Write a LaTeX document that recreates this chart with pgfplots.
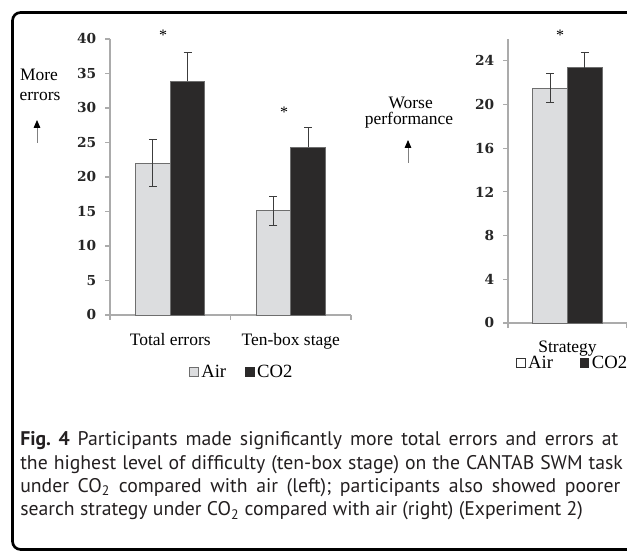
\documentclass[border=0pt]{standalone}
\usepackage{fontspec}
\setmainfont{Liberation Serif}
\newfontfamily\tickfont{DejaVu Serif}
\newfontfamily\capfont{PT Sans}
\usepackage{pgfplots}
\pgfplotsset{compat=1.18}
\usetikzlibrary{arrows.meta}
\frenchspacing

\definecolor{airfill}{HTML}{DCDDDF}
\definecolor{co2fill}{HTML}{2B2929}
\definecolor{barline}{HTML}{6E6E6E}
\definecolor{axisgray}{HTML}{ABABAB}
\definecolor{errgray}{HTML}{3C3C3C}
\definecolor{captext}{HTML}{231F20}

% 1px = 0.75pt, picture is 627x552 px
\pgfplotsset{
  swm/.style={
    scale only axis,
    axis x line=bottom, axis y line=left,
    axis line style={axisgray, -, line width=0.8pt},
    tick align=outside, major tick length=3.75pt,
    tick style={axisgray, line width=0.8pt},
    ymin=0, clip=false,
    ybar=0pt, bar width=26pt,
    /pgf/number format/assume math mode=true,
    yticklabel style={font=\tickfont\bfseries\fontsize{10.3}{12}\selectfont, text=black!85, xshift=-3pt},
    xticklabel style={font=\fontsize{13.1}{15}\selectfont, yshift=-10pt},
    extra x tick style={major tick length=0pt},
    legend image code/.code={\draw[##1, line width=0.6pt] (0pt,-3.1pt) rectangle (6.6pt,3.5pt);},
    legend style={draw=none, fill=none, anchor=center, legend columns=2,
      font=\fontsize{14}{15}\selectfont},
  },
  airbar/.style={fill=airfill, draw=barline, line width=0.7pt},
  co2bar/.style={fill=co2fill, draw=barline, line width=0.7pt},
  errs/.style={error bars/.cd, y dir=#1, y explicit,
    error bar style={errgray, line width=0.8pt},
    error mark options={errgray, line width=0.8pt, mark size=3pt, rotate=90}},
}

\begin{document}
\begin{tikzpicture}
\path[use as bounding box] (0pt,0pt) rectangle (470.25pt,414pt);
\clip (0pt,0pt) rectangle (470.25pt,414pt);

% frame
\draw[line width=2pt, rounded corners=6pt] (9.4pt,1.9pt) rectangle (520pt,404.6pt);

% left panel
\begin{axis}[swm,
  at={(82.5pt,177.75pt)}, anchor=south west,
  width=180.75pt, height=207pt,
  xmin=-0.5, xmax=1.5, ymax=40,
  ytick={0,5,...,40},
  xtick={-0.5,0.5,1.5}, xticklabels={,,},
  extra x ticks={0,1}, extra x tick labels={Total errors, Ten-box stage},
  legend style={at={(0.548,-0.207)}},
]
\addplot[airbar, errs=both] coordinates {(0,22.0) +- (0,3.4) (1,15.1) +- (0,2.1)};
\addlegendentry{Air\rule{12pt}{0pt}}
\addplot[co2bar, legend image post style={draw=co2fill}, errs=plus] coordinates {(0,33.9) +- (0,4.1) (1,24.3) +- (0,2.9)};
\addlegendentry{CO2}
\node[font=\fontsize{12}{12}\selectfont] at (axis cs:-0.06,40.6) {*};
\node[font=\fontsize{12}{12}\selectfont] at (axis cs:0.944,29.4) {*};
\end{axis}

% right panel
\begin{axis}[swm,
  at={(381pt,171.75pt)}, anchor=south west,
  width=89.25pt, height=213pt,
  xmin=-0.5, xmax=0.5, ymax=26,
  ytick={0,4,...,24},
  xtick={-0.5,0.5}, xticklabels={,},
  extra x ticks={0}, extra x tick labels={Strategy},
  legend style={at={(0.545,-0.141)}},
]
\addplot[airbar, legend image post style={fill=white, draw=black!80}, errs=both] coordinates {(0,21.5) +- (0,1.3)};
\addlegendentry{Air\rule{18pt}{0pt}}
\addplot[co2bar, legend image post style={draw=co2fill}, errs=plus] coordinates {(0,23.35) +- (0,1.45)};
\addlegendentry{CO2}
\node[font=\fontsize{12}{12}\selectfont] at (axis cs:-0.063,26.35) {*};
\end{axis}

% side annotations
\begin{scope}[font=\fontsize{13.1}{15}\selectfont, inner sep=0pt]
\node at (29.25pt,357.75pt) {More};
\node at (30pt,342pt) {errors};
\node at (308pt,336.75pt) {Worse};
\node at (306.75pt,323.75pt) {performance};
\end{scope}
\draw[black!50, line width=0.6pt, -{Triangle[black, width=5pt, length=6pt]}] (27.75pt,306.75pt) -- (27.75pt,324pt);
\draw[black!50, line width=0.6pt, -{Triangle[black, width=5pt, length=6pt]}] (306pt,291.75pt) -- (306pt,309pt);

% caption
\begin{scope}[font=\capfont\fontsize{14.8}{17}\selectfont, text=captext, inner sep=0pt]
\node[anchor=base west] at (15pt,79.5pt) {\makebox[448.5pt][s]{\textbf{Fig.\ 4} Participants made significantly more total errors and errors at}};
\node[anchor=base west] at (15pt,61.9pt) {\makebox[452pt][s]{the highest level of difficulty (ten-box stage) on the CANTAB SWM task}};
\node[anchor=base west] at (15pt,44.6pt) {\makebox[450pt][s]{under CO\textsubscript{2} compared with air (left); participants also showed poorer}};
\node[anchor=base west] at (15pt,27pt) {search strategy under CO\textsubscript{2} compared with air (right) (Experiment 2)};
\end{scope}
\end{tikzpicture}
\end{document}
